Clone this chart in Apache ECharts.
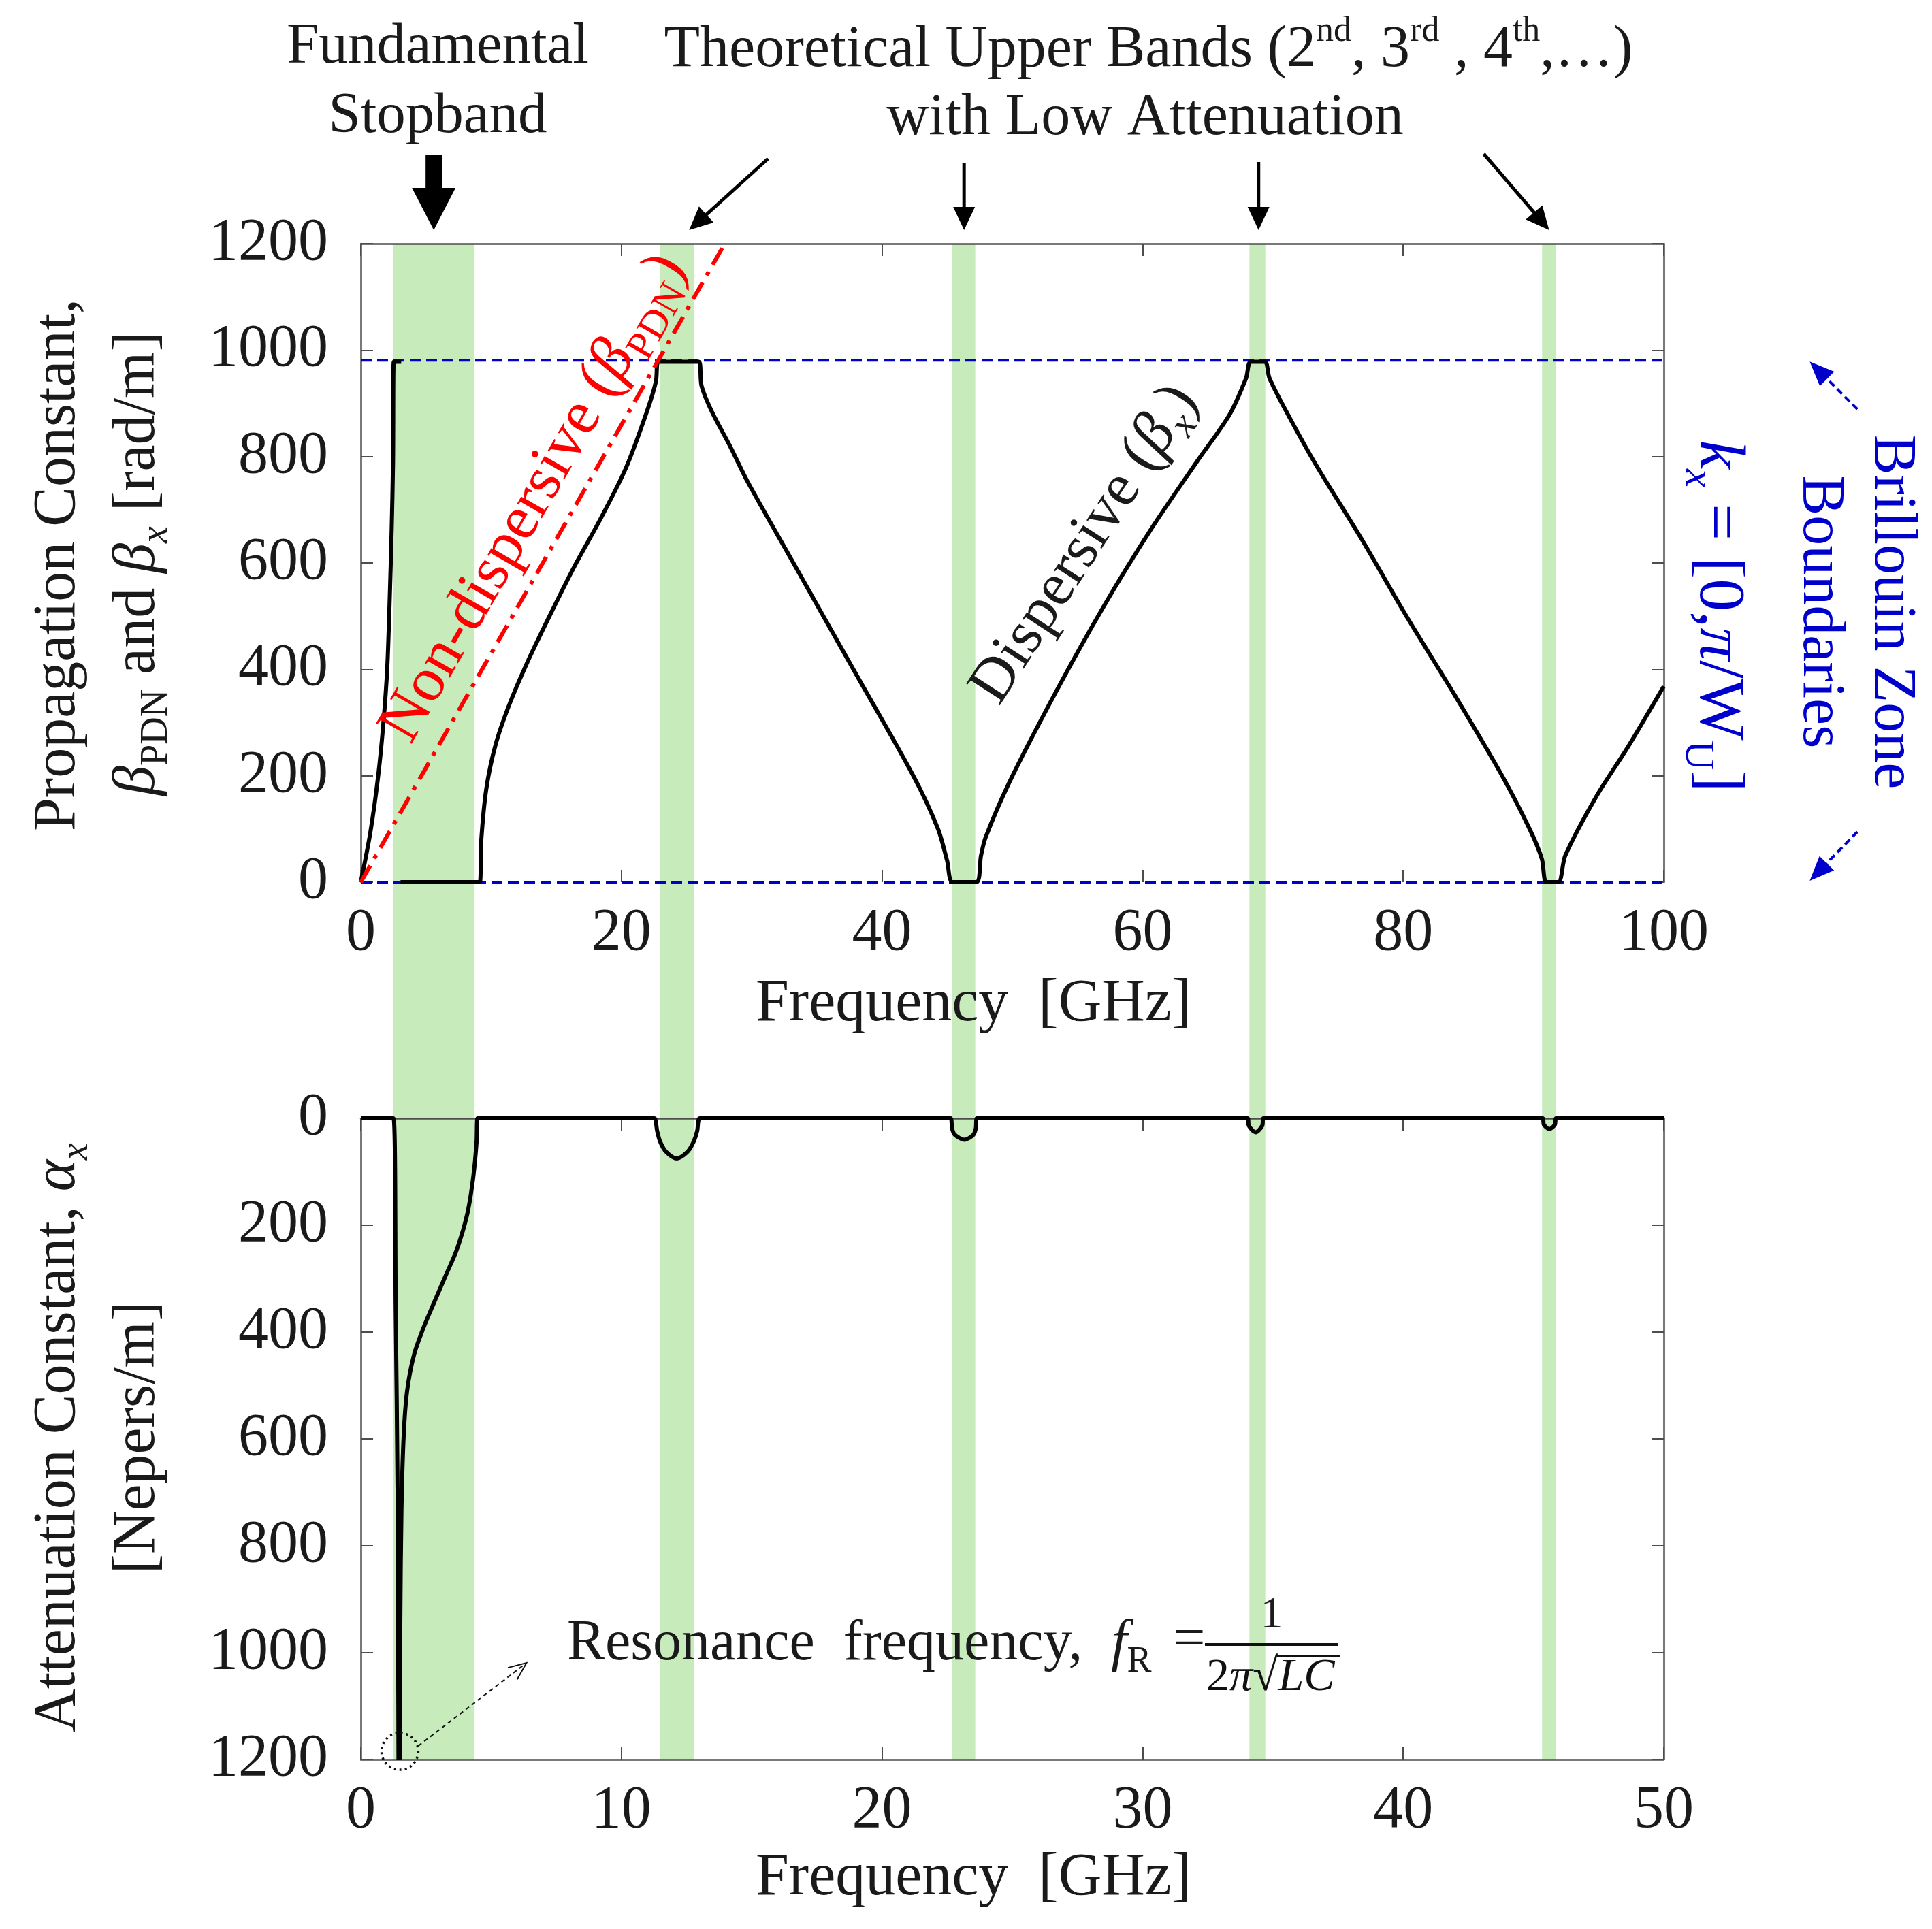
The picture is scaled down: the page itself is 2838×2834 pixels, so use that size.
<!DOCTYPE html>
<html>
<head>
<meta charset="utf-8">
<script src="https://cdn.jsdelivr.net/npm/echarts@6/dist/echarts.min.js"></script>
<style>
  html, body { margin: 0; padding: 0; background: #fff; }
  #chart { width: 2838px; height: 2834px; }
</style>
</head>
<body>
<div id="chart"></div>
<script>
// ---- data ----
// top panel: beta_x [rad/m] vs frequency [GHz], '-' breaks the curve
const betaX = [
  [0, 0], [0.73, 93], [1.33, 199], [1.73, 298], [2.03, 403], [2.23, 542], [2.37, 665],
  [2.47, 786], [2.53, 978], [3.1, 978], [3.1, '-'],
  [3.05, 0], [9.13, 0], [9.24, 77], [9.63, 175], [10.33, 257], [11.34, 330], [12.74, 411],
  [14.34, 493], [16.34, 591], [18.34, 680], [20.34, 778], [21.95, 884], [22.65, 941],
  [22.85, 978], [25.94, 978], [26.15, 933], [26.95, 884], [28.35, 819], [29.7, 752],
  [33.2, 600], [37.8, 400], [42.4, 200], [44.3, 100], [45.0, 40], [45.43, 0], [47.23, 0],
  [47.6, 50], [47.95, 84], [49.76, 187], [53.36, 358], [56.96, 516], [60.56, 660],
  [64.16, 790], [66.68, 879], [67.94, 947], [68.3, 978], [69.38, 978], [69.74, 947],
  [71.0, 886], [73.17, 790], [76.78, 646], [80.37, 495], [83.97, 351], [87.57, 201],
  [89.74, 98], [90.64, 44], [91.0, 0], [91.9, 0], [92.44, 50], [94.8, 160], [97.3, 256],
  [100, 368]
];
// non-dispersive line beta_PDN
const betaPDN = [[0, 0], [27.93, 1200]];
// Brillouin zone boundaries (0 and pi/Wu), drawn past the axis end
const brillouinHigh = [[0, 981], [110, 981]];
const brillouinLow = [[0, 0], [110, 0]];

// bottom panel: alpha_x [Nepers/m] vs frequency [GHz]
const alphaX = [
  [0, 0], [1.255, 0], [1.34, 360], [1.41, 692], [1.446, 1200], [1.446, '-'],
  [1.5, 1200], [1.516, 941], [1.56, 733], [1.647, 593], [1.778, 510], [2.04, 443],
  [2.39, 394], [2.82, 344], [3.26, 294], [3.69, 245], [4.09, 178], [4.31, 112],
  [4.44, 46], [4.48, 0],
  [11.27, 0], [11.32, 6], [11.37, 23], [11.49, 44], [11.72, 63], [12.12, 75], [12.53, 63],
  [12.77, 44], [12.91, 23], [12.95, 6], [13.0, 0],
  [22.63, 0], [22.69, 19], [22.8, 31], [23.16, 40], [23.5, 31], [23.6, 19], [23.64, 0],
  [34.03, 0], [34.08, 14], [34.34, 26], [34.59, 14], [34.64, 0],
  [45.35, 0], [45.4, 12], [45.61, 20], [45.82, 12], [45.87, 0], [50, 0]
];

// shaded pass bands, in top-panel GHz (they run through both panels)
const bandStart = [2.47, 22.96, 45.38, 68.2, 90.66];
const bandEnd = [8.73, 25.6, 47.16, 69.42, 91.74];

// arrows above the top panel point at these frequencies
const arrowTipF = [5.6, 25.2, 46.3, 68.9, 91.2];

const FONT = '"Liberation Serif", "DejaVu Serif", serif';
const BLUE = '#0000cc';
const GREEN = '#c8ebbc';
const AXIS = '#4d4d4d';
const TXT = '#1a1a1a';

const chart = echarts.init(document.getElementById('chart'));

function xAx(grid, max, interval, pos, label) {
  return {
    gridIndex: grid, type: 'value', min: 0, max: max, interval: interval, position: pos,
    axisLine: { show: !(grid === 0 && pos === 'bottom'), onZero: false, lineStyle: { color: AXIS, width: 2.5 } },
    axisTick: { inside: true, length: 18, lineStyle: { color: AXIS, width: 2 } },
    axisLabel: { show: label, margin: 32, fontSize: 88, fontFamily: FONT, color: TXT, formatter: v => String(v) },
    splitLine: { show: false }
  };
}
function yAx(grid, pos, label, inverse) {
  return {
    gridIndex: grid, type: 'value', min: 0, max: 1200, interval: 200, position: pos, inverse: inverse,
    axisLine: { show: true, onZero: false, lineStyle: { color: AXIS, width: 2.5 } },
    axisTick: { inside: true, length: 18, lineStyle: { color: AXIS, width: 2 } },
    axisLabel: { show: label, margin: 48, fontSize: 88, fontFamily: FONT, color: TXT, formatter: v => String(v) },
    splitLine: { show: false }
  };
}

chart.setOption({
  animation: false,
  backgroundColor: '#fff',
  textStyle: { fontFamily: FONT },
  grid: [
    { left: 530, top: 358, width: 1914, height: 938 },
    { left: 530, top: 1643, width: 1914, height: 942 },
    { left: 530, top: 358, width: 1914, height: 2227 }
  ],
  xAxis: [
    xAx(0, 100, 20, 'bottom', true),
    xAx(0, 100, 20, 'top', false),
    xAx(1, 50, 10, 'bottom', true),
    xAx(1, 50, 10, 'top', false),
    { gridIndex: 2, type: 'value', min: 0, max: 100, show: false }
  ],
  yAxis: [
    yAx(0, 'left', true, false),
    yAx(0, 'right', false, false),
    yAx(1, 'left', true, true),
    yAx(1, 'right', false, true),
    { gridIndex: 2, type: 'value', min: 0, max: 1, show: false }
  ],
  series: [
    {
      type: 'custom', xAxisIndex: 4, yAxisIndex: 4, z: -1, silent: true,
      data: bandStart.map((s, i) => [s, bandEnd[i]]),
      encode: { x: [0, 1] },
      renderItem: function (params, api) {
        const a = api.coord([api.value(0), 1]);
        const b = api.coord([api.value(1), 0]);
        return { type: 'rect', shape: { x: a[0], y: a[1], width: b[0] - a[0], height: b[1] - a[1] }, style: { fill: GREEN } };
      }
    },
    {
      type: 'line', xAxisIndex: 0, yAxisIndex: 0, data: brillouinHigh, clip: false, symbol: 'none', z: 3,
      lineStyle: { color: BLUE, width: 4, type: [16, 8] }
    },
    {
      type: 'line', xAxisIndex: 0, yAxisIndex: 0, data: brillouinLow, clip: false, symbol: 'none', z: 3,
      lineStyle: { color: BLUE, width: 4, type: [16, 8] }
    },
    {
      type: 'line', xAxisIndex: 0, yAxisIndex: 0, data: betaX, symbol: 'none', z: 4, connectNulls: false,
      smooth: 0.3, lineStyle: { color: '#000', width: 6, join: 'round' }
    },
    {
      type: 'line', xAxisIndex: 0, yAxisIndex: 0, data: betaPDN, symbol: 'none', z: 5,
      lineStyle: { color: '#ff0000', width: 6, type: [28, 12, 6, 12] }
    },
    {
      type: 'line', xAxisIndex: 2, yAxisIndex: 2, data: alphaX, symbol: 'none', z: 4, connectNulls: false,
      smooth: 0.3, lineStyle: { color: '#000', width: 6, join: 'round' }
    }
  ]
});

// ---- annotations ----
function txt(x, y, text, o) {
  o = o || {};
  const size = o.size || 88;
  const col = o.color || TXT;
  const small = Math.round(size * 0.64);
  const rich = {
    i: { fontStyle: 'italic', fontSize: size, lineHeight: Math.round(size * 1.25), fontFamily: FONT, fill: col },
    s: { fontSize: small, lineHeight: small, verticalAlign: 'bottom', fontFamily: FONT, fill: col },
    si: { fontSize: small, lineHeight: small, verticalAlign: 'bottom', fontStyle: 'italic', fontFamily: FONT, fill: col },
    sup: { fontSize: Math.round(size * 0.6), lineHeight: Math.round(size * 0.6), verticalAlign: 'top', fontFamily: FONT, fill: col }
  };
  return {
    type: 'text', x: x, y: y, rotation: o.rot || 0, z: 20,
    style: {
      text: text, fill: col, fontSize: size, fontFamily: FONT, lineHeight: Math.round(size * 1.25),
      align: o.align || 'center', verticalAlign: 'middle', rich: rich
    }
  };
}

function arrow(tail, tip, o) {
  const dx = tip[0] - tail[0], dy = tip[1] - tail[1], L = Math.hypot(dx, dy);
  const ux = dx / L, uy = dy / L, px = -uy, py = ux;
  const base = [tip[0] - ux * o.headL, tip[1] - uy * o.headL];
  const left = [base[0] + px * o.headW, base[1] + py * o.headW];
  const right = [base[0] - px * o.headW, base[1] - py * o.headW];
  const els = [];
  const end = o.open ? tip : [base[0] + ux * 2, base[1] + uy * 2];
  els.push({ type: 'line', z: 20, shape: { x1: tail[0], y1: tail[1], x2: end[0], y2: end[1] },
    style: { stroke: o.color, lineWidth: o.width, lineDash: o.dash || null } });
  if (o.open) {
    els.push({ type: 'polyline', z: 20, shape: { points: [left, tip, right] },
      style: { stroke: o.color, lineWidth: o.width, fill: null } });
  } else {
    els.push({ type: 'polygon', z: 20, shape: { points: [left, tip, right] }, style: { fill: o.color } });
  }
  return els;
}

const topPx = (f, b) => chart.convertToPixel({ gridIndex: 0 }, [f, b]);
const botPx = (f, a) => chart.convertToPixel({ gridIndex: 1 }, [f, a]);

const els = [];
const topY = topPx(0, 1200)[1];

// arrows above the top panel
const tails = [[0, -110], [116, -105], [0, -98], [0, -100], [-96, -112]];
arrowTipF.forEach((f, i) => {
  const tip = [topPx(f, 1200)[0], topY - 20];
  const tail = [tip[0] + tails[i][0], tip[1] + tails[i][1]];
  if (i === 0) {
    els.push(...arrow(tail, tip, { color: '#000', width: 24, headL: 62, headW: 32 }));
  } else {
    els.push(...arrow(tail, tip, { color: '#000', width: 5, headL: 34, headW: 16 }));
  }
});

els.push(txt(643, 70, 'Fundamental', { size: 85 }));
els.push(txt(643, 172, 'Stopband', { size: 85 }));
els.push(txt(1687, 74, 'Theoretical Upper Bands (2{sup|nd}, 3{sup|rd} , 4{sup|th},…)', { size: 86 }));
els.push(txt(1682, 174, 'with Low Attenuation', { size: 86 }));

// axis titles
els.push(txt(1430, 1476, 'Frequency  [GHz]'));
els.push(txt(1430, 2760, 'Frequency  [GHz]'));
els.push(txt(86, 830, 'Propagation Constant,', { rot: Math.PI / 2 }));
els.push(txt(203, 828, '{i|β}{s|PDN} and {i|β}{si|x} [rad/m]', { rot: Math.PI / 2 }));
els.push(txt(86, 2112, 'Attenuation Constant, {i|α}{si|x}', { rot: Math.PI / 2 }));
els.push(txt(203, 2112, '[Nepers/m]', { rot: Math.PI / 2 }));

// curve labels
els.push(txt(785, 732, 'Non-dispersive ({i|β}{s|PDN})', { size: 92, color: '#ff0000', rot: 60 * Math.PI / 180 }));
els.push(txt(1594, 800, 'Dispersive ({i|β}{si|x})', { size: 90, rot: 57 * Math.PI / 180 }));

// Brillouin zone notes
els.push(txt(2523, 905, '{i|k}{si|x} = [0,{i|π}/W{s|U}]', { size: 96, color: BLUE, rot: -Math.PI / 2 }));
els.push(txt(2778, 899, 'Brillouin Zone', { color: BLUE, rot: -Math.PI / 2 }));
els.push(txt(2673, 899, 'Boundaries', { color: BLUE, rot: -Math.PI / 2 }));
const bh = topPx(111.2, 981), bl = topPx(111.2, 0);
els.push(...arrow([bh[0] + 70, bh[1] + 72], [bh[0], bh[1] + 2], { color: BLUE, width: 4, headL: 36, headW: 15, dash: [10, 6] }));
els.push(...arrow([bl[0] + 70, bl[1] - 74], [bl[0], bl[1] - 2], { color: BLUE, width: 4, headL: 36, headW: 15, dash: [10, 6] }));

// resonance note
const rc = botPx(1.5, 1200);
els.push({ type: 'circle', z: 20, shape: { cx: rc[0], cy: rc[1] - 12, r: 27 },
  style: { fill: null, stroke: '#111', lineWidth: 3.5, lineDash: [3, 5] } });
els.push(...arrow([rc[0] + 27, rc[1] - 20], [rc[0] + 186, rc[1] - 142], { color: '#111', width: 2, headL: 26, headW: 11, dash: [6, 5], open: true }));
els.push(txt(833, 2416, 'Resonance  frequency,  {i|f}{s|R}', { size: 84, align: 'left' }));
els.push(txt(1747, 2412, '=', { size: 84 }));
els.push({ type: 'line', z: 20, shape: { x1: 1770, y1: 2416, x2: 1965, y2: 2416 }, style: { stroke: '#111', lineWidth: 4 } });
els.push(txt(1868, 2374, '1', { size: 66 }));
els.push({
  type: 'text', x: 1772, y: 2465, z: 20,
  style: {
    text: '2{i|π}√{i|LC}', fill: '#111', fontSize: 68, fontFamily: FONT, align: 'left', verticalAlign: 'middle',
    rich: { i: { fontStyle: 'italic', fontSize: 68, fontFamily: FONT, fill: '#111' } }
  }
});
els.push({ type: 'line', z: 20, shape: { x1: 1876, y1: 2433, x2: 1968, y2: 2433 }, style: { stroke: '#111', lineWidth: 3 } });

chart.setOption({ graphic: { elements: els } });
</script>
</body>
</html>
